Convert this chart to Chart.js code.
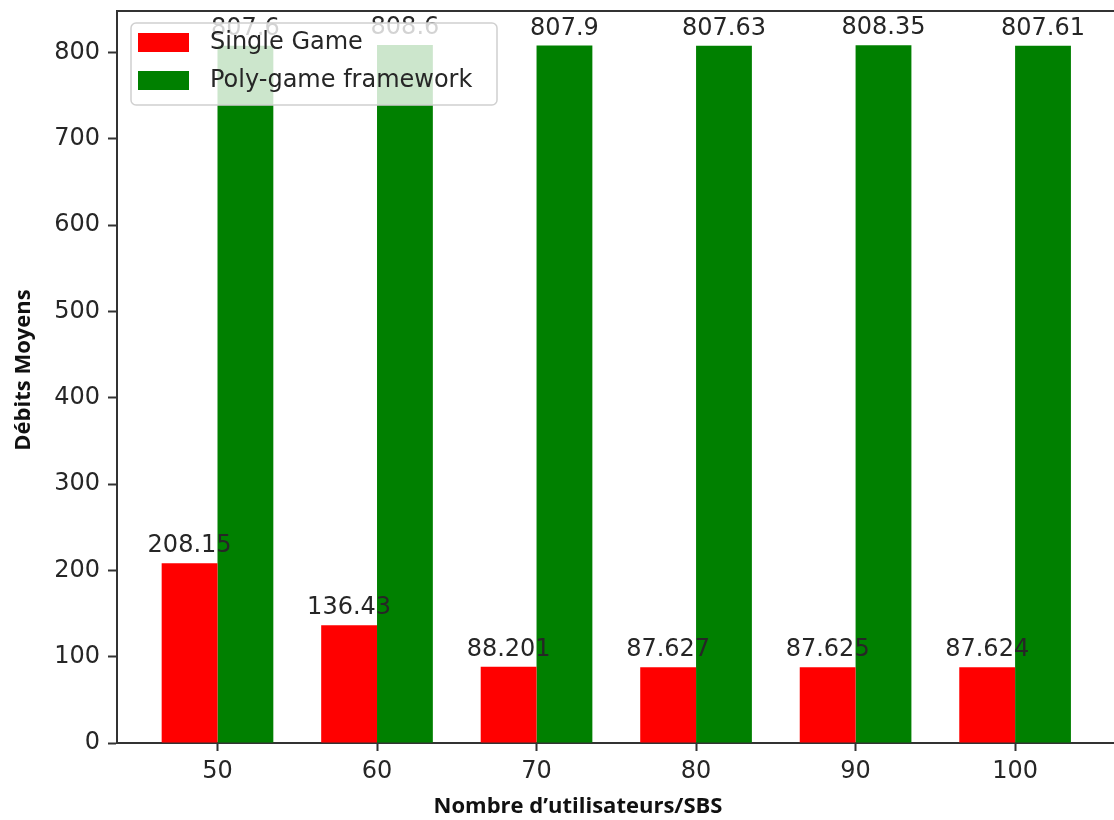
<!DOCTYPE html>
<html>
<head>
<meta charset="utf-8">
<script src="https://cdn.jsdelivr.net/npm/chart.js@4.4.1/dist/chart.umd.min.js"></script>
<style>
    html, body { margin: 0; padding: 0; background: #fff; }
    #wrap { width: 1114px; height: 820px; position: relative; }
</style>
</head>
<body>
<div id="wrap"><canvas id="debitsChart"></canvas></div>
<script>
var users = [50, 60, 70, 80, 90, 100];
var singleGame = [208.15, 136.43, 88.201, 87.627, 87.625, 87.624];
var polyGame = [807.6, 808.6, 807.9, 807.63, 808.35, 807.61];
var yTicks = [0, 100, 200, 300, 400, 500, 600, 700, 800];
var seriesNames = ['Single Game', 'Poly-game framework'];
var seriesColors = ['#ff0000', '#008000'];

var TEXT = '#262626';
var FONT = '"DejaVu Sans", sans-serif';

function toPoints(values) {
    return users.map(function (u, i) { return { x: u, y: values[i] }; });
}

// value labels on top of each bar, then frame, legend and axis titles
var overlayPlugin = {
    id: 'overlay',
    afterDatasetsDraw: function (chart) {
        var ctx = chart.ctx;
        ctx.save();
        ctx.fillStyle = TEXT;
        ctx.font = '24px ' + FONT;
        ctx.textAlign = 'center';
        ctx.textBaseline = 'alphabetic';
        chart.data.datasets.forEach(function (ds, di) {
            var meta = chart.getDatasetMeta(di);
            meta.data.forEach(function (bar, i) {
                ctx.fillText(String(ds.data[i].y), bar.x, bar.y - 11);
            });
        });
        ctx.restore();
    },
    afterDraw: function (chart) {
        var ctx = chart.ctx;
        var a = chart.chartArea;
        ctx.save();

        // top spine
        ctx.strokeStyle = '#333';
        ctx.lineWidth = 2;
        ctx.beginPath();
        ctx.moveTo(a.left, a.top);
        ctx.lineTo(chart.width, a.top);
        ctx.stroke();

        // legend
        var lx = 131, ly = 23, lw = 366, lh = 82;
        ctx.fillStyle = 'rgba(255,255,255,0.8)';
        ctx.strokeStyle = '#d0d0d0';
        ctx.lineWidth = 1.5;
        ctx.beginPath();
        ctx.roundRect(lx, ly, lw, lh, 5);
        ctx.fill();
        ctx.stroke();

        ctx.font = '24px ' + FONT;
        ctx.textAlign = 'left';
        ctx.textBaseline = 'middle';
        seriesNames.forEach(function (name, i) {
            var cy = 42 + i * 38;
            ctx.fillStyle = seriesColors[i];
            ctx.fillRect(138, cy - 9, 51, 19);
            ctx.fillStyle = TEXT;
            ctx.fillText(name, 210, cy + 1);
        });

        // axis titles
        ctx.fillStyle = '#111';
        ctx.font = 'bold 22px "Open Sans", sans-serif';
        ctx.textAlign = 'center';
        ctx.textBaseline = 'alphabetic';
        ctx.fillText('Nombre d\u2019utilisateurs/SBS', 578, 813);
        ctx.translate(30, 370);
        ctx.rotate(-Math.PI / 2);
        ctx.fillText('Débits Moyens', 0, 0);
        ctx.restore();
    }
};

var ctx = document.getElementById('debitsChart');
new Chart(ctx, {
    type: 'bar',
    data: {
        datasets: [
            { label: seriesNames[0], data: toPoints(singleGame), backgroundColor: seriesColors[0], borderWidth: 0 },
            { label: seriesNames[1], data: toPoints(polyGame), backgroundColor: seriesColors[1], borderWidth: 0 }
        ]
    },
    options: {
        responsive: true,
        maintainAspectRatio: false,
        animation: false,
        categoryPercentage: 0.7,
        barPercentage: 1.0,
        layout: { padding: { top: 11, left: 0, right: 0, bottom: 0 } },
        plugins: {
            legend: { display: false },
            tooltip: { enabled: false }
        },
        scales: {
            x: {
                type: 'linear',
                offset: false,
                min: 43.7,
                max: 106.2,
                grid: { display: true, offset: false, drawOnChartArea: false, drawTicks: true, tickLength: 8, tickWidth: 2, tickColor: '#333' },
                border: { display: true, color: '#333', width: 2 },
                ticks: { stepSize: 10, color: TEXT, font: { family: FONT, size: 24 }, padding: 6, maxRotation: 0 },
                afterBuildTicks: function (scale) {
                    scale.ticks = users.map(function (u) { return { value: u }; });
                },
                afterFit: function (scale) {
                    scale.height = 77;
                    scale.paddingLeft = 0;
                    scale.paddingRight = 0;
                }
            },
            y: {
                type: 'linear',
                min: 0,
                max: 848,
                grid: { display: true, drawOnChartArea: false, drawTicks: true, tickLength: 9, tickWidth: 2, tickColor: '#333' },
                border: { display: true, color: '#333', width: 2 },
                ticks: { color: TEXT, font: { family: FONT, size: 24 }, padding: 8 },
                afterBuildTicks: function (scale) {
                    scale.ticks = yTicks.map(function (v) { return { value: v }; });
                },
                afterFit: function (scale) {
                    scale.width = 117;
                    scale.paddingTop = 0;
                    scale.paddingBottom = 0;
                }
            }
        }
    },
    plugins: [overlayPlugin]
});
</script>
</body>
</html>
